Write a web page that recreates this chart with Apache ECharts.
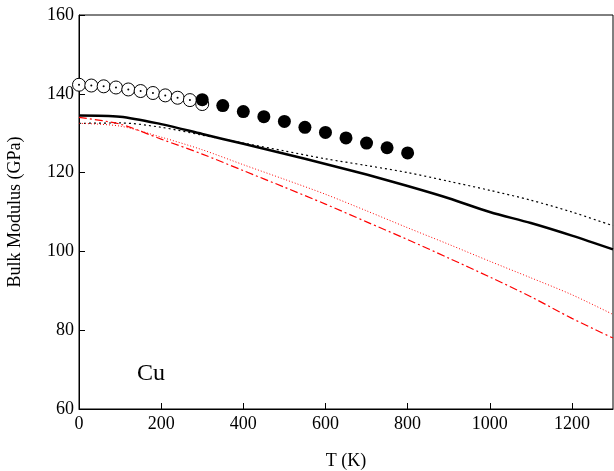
<!DOCTYPE html><html><head><meta charset="utf-8"><script src="https://cdn.jsdelivr.net/npm/echarts@6/dist/echarts.min.js"></script></head><body style="margin:0"><div id="c" style="width:614px;height:471px"></div><script>
const openX=[0,30,60,90,120,150,180,210,240,270,300];
const openY=[142.3,142.1,141.9,141.6,141.1,140.7,140.2,139.6,139,138.4,137.4];
const fillX=[300,350,400,450,500,550,600,650,700,750,800];
const fillY=[138.5,137,135.5,134.2,133,131.5,130.2,128.8,127.5,126.3,125];
const lineX=[0,100,200,300,400,500,600,700,800,900,1000,1100,1200,1300];
const solid=[134.5,134.2,132.3,129.8,127.3,124.8,122.2,119.5,116.6,113.5,110,107.2,104,100.5];
const dotBlack=[132.5,132.6,131.5,129.5,127.5,125.5,123.5,121.8,120,117.8,115.5,113,110,106.5];
const dotRed=[132.5,131.8,129,125.8,122,118.3,114.5,110.3,106,101.8,97.5,93.3,89,84];
const dashRed=[134,132.3,128.5,124.7,120.5,116.3,112,107.5,103,98.3,93.5,88.5,83,78];
const pair=(xs,ys)=>xs.map((x,i)=>[x,ys[i]]);
const F='Liberation Serif';
const c=echarts.init(document.getElementById('c'));
c.setOption({animation:false,textStyle:{fontFamily:F},
grid:{left:79,right:1,top:15,bottom:62,outerBoundsMode:'none',containLabel:false},
xAxis:{type:'value',min:0,max:1300,interval:200,name:'T (K)',nameLocation:'middle',nameGap:43,nameTextStyle:{fontSize:18,color:'#000',fontFamily:F},
axisLine:{lineStyle:{color:'#000'}},axisTick:{inside:true,length:6,lineStyle:{color:'#000'}},axisLabel:{fontSize:18,margin:6,color:'#000',fontFamily:F,showMaxLabel:false,formatter:v=>String(v)},splitLine:{show:false}},
yAxis:{type:'value',min:60,max:160,interval:20,name:'Bulk Modulus (GPa)',nameLocation:'middle',nameGap:55,nameTextStyle:{fontSize:18,color:'#000',fontFamily:F},
axisLine:{lineStyle:{color:'#000'}},axisTick:{inside:true,length:6,lineStyle:{color:'#000'}},axisLabel:{fontSize:18,margin:5,color:'#000',fontFamily:F},splitLine:{show:false}},
graphic:[{type:'text',left:137,top:362,style:{text:'Cu',font:'24px "Liberation Serif"',fill:'#000'}},
{type:'rect',shape:{x:79,y:15,width:534,height:394},style:{fill:'none',stroke:'#000',lineWidth:1}}],
series:[
{type:'line',data:pair(lineX,solid),symbol:'none',smooth:0.3,lineStyle:{color:'#000',width:2.5}},
{type:'line',data:pair(lineX,dotBlack),symbol:'none',smooth:0.3,lineStyle:{color:'#000',width:1.2,type:[2,3]}},
{type:'line',data:pair(lineX,dotRed),symbol:'none',smooth:0.3,lineStyle:{color:'#f00',width:1,type:[1,2]}},
{type:'line',data:pair(lineX,dashRed),symbol:'none',smooth:0.3,lineStyle:{color:'#f00',width:1.2,type:[8,3,2,3]}},
{type:'scatter',data:pair(openX,openY),symbol:'circle',symbolSize:13,itemStyle:{color:'#fff',borderColor:'#000',borderWidth:1,opacity:1}},
{type:'scatter',data:pair(openX,openY),symbol:'circle',symbolSize:2,itemStyle:{color:'#000',opacity:1}},
{type:'scatter',data:pair(fillX,fillY),symbol:'circle',symbolSize:13,itemStyle:{color:'#000',opacity:1}}
]});
</script></body></html>
